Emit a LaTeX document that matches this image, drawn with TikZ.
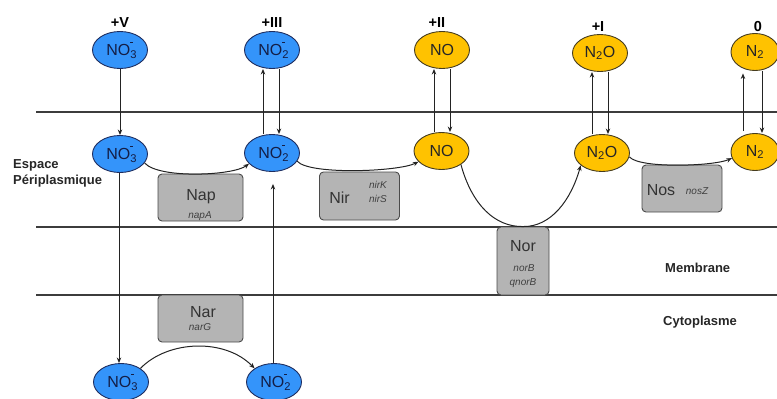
\documentclass[tikz,border=0pt]{standalone}
\usepackage{fontspec}
\setmainfont{Liberation Sans}
\usetikzlibrary{shapes.geometric,arrows.meta,calc}

\definecolor{ionblue}{RGB}{52,148,250}
\definecolor{ionblueedge}{RGB}{30,45,95}
\definecolor{iontext}{RGB}{20,30,70}
\definecolor{gasyellow}{RGB}{255,194,0}
\definecolor{gasedge}{RGB}{70,60,30}
\definecolor{enzgray}{RGB}{180,180,180}
\definecolor{enzedge}{RGB}{75,75,75}
\definecolor{linecol}{RGB}{35,35,35}
\definecolor{layercol}{RGB}{60,60,60}

% stacked subscript / superscript for ion formulas
\newcommand\ionsubsup[2]{\rlap{\textsubscript{#1}}\textsuperscript{#2}}
\newcommand\ionminus{\raisebox{0.62em}{\rule{0.26em}{0.07em}}}

\tikzset{
  ion/.style={ellipse, line width=0.9pt, minimum width=55pt, minimum height=37pt,
    inner sep=0pt, font=\fontsize{16}{18}\selectfont},
  nox/.style={ion, fill=ionblue, draw=ionblueedge, text=iontext},
  gas/.style={ion, fill=gasyellow, draw=gasedge, text=black!85},
  enz/.style={draw=enzedge, fill=enzgray, rounded corners=4pt, line width=0.9pt, inner sep=0pt},
  enzname/.style={anchor=base, inner sep=0pt, text=black!80, font=\fontsize{16}{18}\selectfont},
  gene/.style={anchor=base, inner sep=0pt, text=black!75, font=\fontsize{10}{12}\selectfont\itshape},
  charge/.style={anchor=base, inner sep=0pt, font=\fontsize{14.5}{16}\selectfont\bfseries},
  zone/.style={anchor=base west, inner sep=0pt, align=left, text=black!85,
    font=\fontsize{13}{16}\selectfont\bfseries},
  arr/.style={draw=linecol, line width=1pt, -{Stealth[length=5.5pt,width=4.5pt]}},
  layer/.style={draw=layercol, line width=1.2pt}
}

\begin{document}
\begin{tikzpicture}[x=1pt,y=-1pt]
\useasboundingbox (0,0) rectangle (777,399);

% layer boundaries
\coordinate (l1a) at (36,112);  \coordinate (l1b) at (777,112);
\coordinate (l2a) at (36,227);  \coordinate (l2b) at (777,227);
\coordinate (l3a) at (36,295);  \coordinate (l3b) at (777,295);
\draw[layer] (l1a) -- (l1b);
\draw[layer] (l2a) -- (l2b);
\draw[layer] (l3a) -- (l3b);

% oxidation states
\node[charge] (cV)   at (120,27) {+V};
\node[charge] (cIII) at (272,27) {+III};
\node[charge] (cII)  at (437,27) {+II};
\node[charge] (cI)   at (598,31) {+I};
\node[charge] (c0)   at (758,31) {0};

% species outside the cell
\node[nox] (NO3t) at (120,50) {NO\ionsubsup{3}{\ionminus}};
\node[nox] (NO2t) at (272,50) {NO\ionsubsup{2}{\ionminus}};
\node[gas] (NOt)  at (442,50) {NO};
\node[gas] (N2Ot) at (600,53) {N\textsubscript{2}O};
\node[gas, minimum width=48pt] (N2t) at (755,52) {N\textsubscript{2}};

% species in the periplasm
\node[nox] (NO3m) at (120,154) {NO\ionsubsup{3}{\ionminus}};
\node[nox] (NO2m) at (272,153) {NO\ionsubsup{2}{\ionminus}};
\node[gas] (NOm)  at (441.5,151) {NO};
\node[gas] (N2Om) at (602,153) {N\textsubscript{2}O};
\node[gas, minimum width=48pt] (N2m) at (755,152) {N\textsubscript{2}};

% species in the cytoplasm
\node[nox] (NO3b) at (121,382) {NO\ionsubsup{3}{\ionminus}};
\node[nox] (NO2b) at (274,382) {NO\ionsubsup{2}{\ionminus}};

% enzymes
\node[enz, minimum width=85pt, minimum height=47pt] (Nap) at (200.5,197.5) {};
\node[enzname] at (201,200) {Nap};
\node[gene] at (200,218) {napA};

\node[enz, minimum width=80pt, minimum height=48pt] (Nir) at (359.5,196) {};
\node[enzname] at (339.5,203) {Nir};
\node[gene] at (378,188) {nirK};
\node[gene] at (378,202) {nirS};

\node[enz, minimum width=52pt, minimum height=68pt] (Nor) at (523,261) {};
\node[enzname] at (523,251) {Nor};
\node[gene] at (524,271) {norB};
\node[gene] at (523,285) {qnorB};

\node[enz, minimum width=80pt, minimum height=47pt] (Nos) at (682,188.5) {};
\node[enzname] at (661,195) {Nos};
\node[gene] at (697,194) {nosZ};

\node[enz, minimum width=85pt, minimum height=47pt] (Nar) at (200.5,318.5) {};
\node[enzname] at (203,317) {Nar};
\node[gene] at (200,330) {narG};

% compartment labels
\node[zone] (peri) at (13,184) {Espace\\Périplasmique};
\node[zone] (memb) at (665,272) {Membrane};
\node[zone] (cyto) at (663,325) {Cytoplasme};

% transport between outside and periplasm
\draw[arr] (NO3t.south) -- (NO3m.north);
\draw[arr] (NO2m.north -| 263,0) -- (NO2t.south -| 263,0);
\draw[arr] (NO2t.south -| 279,0) -- (NO2m.north -| 279,0);
\draw[arr] (NOm.north -| 434,0) -- (NOt.south -| 434,0);
\draw[arr] (NOt.south -| 450,0) -- (NOm.north -| 450,0);
\draw[arr] (N2Om.north -| 592,0) -- (N2Ot.south -| 592,0);
\draw[arr] (N2Ot.south -| 608,0) -- (N2Om.north -| 608,0);
\draw[arr, shorten <=2pt, shorten >=2.5pt] (N2m.north -| 743,0) -- (N2t.south -| 743,0);
\draw[arr] (N2t.south -| 762,0) -- (N2m.north -| 762,0);

% transport between periplasm and cytoplasm
\draw[arr] (NO3m.south -| 119,0) -- (NO3b.north -| 119,0);
\draw[arr, shorten >=12pt] (NO2b.north -| 273,0) -- (NO2m.south -| 273,0);

% reduction steps
\draw[arr] (NO3m.-20) .. controls +(14,16) and +(-16,12) .. (NO2m.205);
\draw[arr] (NO2m.-18) .. controls +(12,14) and +(-20,10) .. (NOm.205);
\draw[arr] (NOm.-35) .. controls (472,205) and (495,227) .. (Nor.north)
                     .. controls (551,227) and (571,200) .. (N2Om.-150);
\draw[arr] (N2Om.-8) .. controls +(10,12) and +(-18,8) .. (N2m.195);
\draw[arr] (NO3b.35) .. controls (168,340) and (225,338) .. (NO2b.145);
\end{tikzpicture}
\end{document}
